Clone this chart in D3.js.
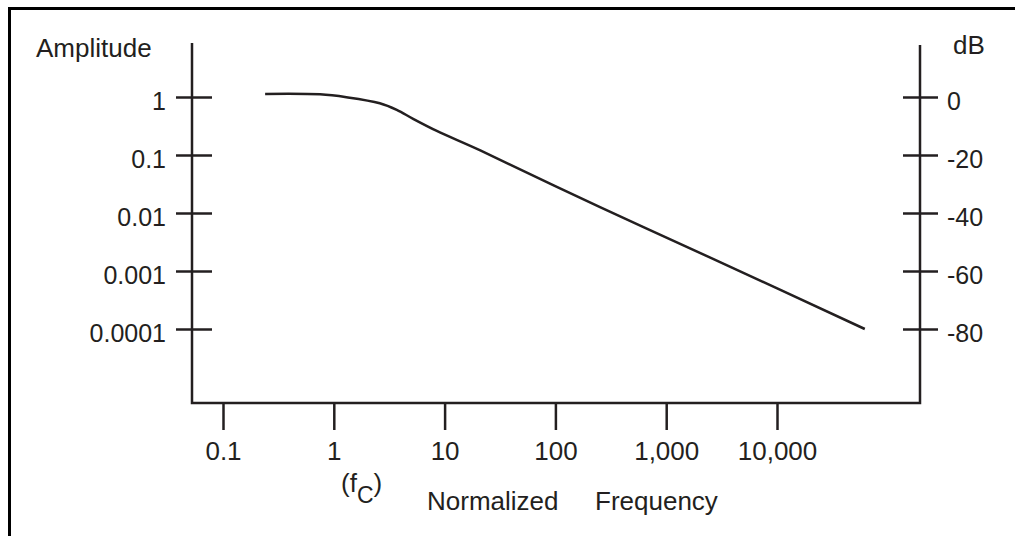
<!DOCTYPE html>
<html>
<head>
<meta charset="utf-8">
<script src="https://cdn.jsdelivr.net/npm/d3@7"></script>
<style>
  html, body { margin: 0; padding: 0; background: #fff; }
  svg { display: block; font-family: "Liberation Sans", Arial, sans-serif; }
  text { fill: #231f20; }
</style>
</head>
<body>
<div id="chart"></div>
<script>
// normalized frequency (f / fc) and amplitude
const frequency = [0.24, 0.75, 1.3, 2.6, 3.7, 5.2, 8.5, 21, 250, 2500, 62000];
const amplitude = [1.13, 1.11, 0.99, 0.78, 0.6, 0.42, 0.26, 0.12, 0.0127, 0.0017, 0.0001];

const ampTicks = [1, 0.1, 0.01, 0.001, 0.0001];
const ampLabels = ["1", "0.1", "0.01", "0.001", "0.0001"];
const dbTicks = [0, -20, -40, -60, -80];
const dbLabels = ["0", "-20", "-40", "-60", "-80"];
const freqTicks = [0.1, 1, 10, 100, 1000, 10000];
const freqLabels = ["0.1", "1", "10", "100", "1,000", "10,000"];

const width = 1015, height = 536;
const ink = "#231f20";
const tickFont = 25;
const labelFont = 26;

// plot frame
const plotLeft = 192, plotRight = 920, plotTop = 43, plotBottom = 403;

const x = d3.scaleLog().domain([0.1, 10000]).range([223, 777]);
const y = d3.scaleLog().domain([0.0001, 1]).range([329, 97]);
const yDb = d3.scaleLinear().domain([-80, 0]).range([329, 97]);

const svg = d3.select("#chart").append("svg")
  .attr("width", width)
  .attr("height", height);

// outer frame (only top and left edges show)
svg.append("path")
  .attr("d", `M9.5,${height} V8.5 H${width}`)
  .attr("fill", "none")
  .attr("stroke", "#000")
  .attr("stroke-width", 3);

// axis lines: open box
svg.append("path")
  .attr("d", `M${plotLeft},${plotTop} V${plotBottom} H${plotRight} V${plotTop + 2}`)
  .attr("fill", "none")
  .attr("stroke", ink)
  .attr("stroke-width", 2.5);

// left amplitude axis
const yAxis = svg.append("g")
  .attr("transform", `translate(${plotLeft},0)`)
  .call(d3.axisLeft(y).tickValues(ampTicks).tickSize(0).tickPadding(26)
    .tickFormat((d, i) => ampLabels[i]));
yAxis.select(".domain").remove();
yAxis.selectAll(".tick line")
  .attr("x1", -16).attr("x2", 20)
  .attr("stroke", ink).attr("stroke-width", 2.5);
yAxis.selectAll(".tick text")
  .attr("font-size", tickFont)
  .attr("dy", "0.5em").attr("fill", ink);
yAxis.attr("font-family", null).attr("font-size", null);

// right dB axis
const dbAxis = svg.append("g")
  .attr("transform", `translate(${plotRight},0)`)
  .call(d3.axisRight(yDb).tickValues(dbTicks).tickSize(0).tickPadding(27)
    .tickFormat((d, i) => dbLabels[i]));
dbAxis.select(".domain").remove();
dbAxis.selectAll(".tick line")
  .attr("x1", -17).attr("x2", 18)
  .attr("stroke", ink).attr("stroke-width", 2.5);
dbAxis.selectAll(".tick text")
  .attr("font-size", tickFont)
  .attr("dy", "0.5em").attr("fill", ink);
dbAxis.attr("font-family", null).attr("font-size", null);

// bottom frequency axis
const xAxis = svg.append("g")
  .attr("transform", `translate(0,${plotBottom})`)
  .call(d3.axisBottom(x).tickValues(freqTicks).tickSize(27).tickPadding(12)
    .tickFormat((d, i) => freqLabels[i]));
xAxis.select(".domain").remove();
xAxis.selectAll(".tick line")
  .attr("stroke", ink).attr("stroke-width", 2.5);
xAxis.selectAll(".tick text")
  .attr("font-size", labelFont)
  .attr("dy", "0.71em").attr("fill", ink);
xAxis.attr("font-family", null).attr("font-size", null);

// response curve
const line = d3.line()
  .x((d, i) => x(frequency[i]))
  .y((d) => y(d))
  .curve(d3.curveCatmullRom.alpha(0.5));

svg.append("path")
  .datum(amplitude)
  .attr("d", line)
  .attr("fill", "none")
  .attr("stroke", ink)
  .attr("stroke-width", 2.5);

// labels
svg.append("text")
  .attr("x", 36).attr("y", 57)
  .attr("font-size", labelFont)
  .text("Amplitude");

svg.append("text")
  .attr("x", 953).attr("y", 54)
  .attr("font-size", labelFont)
  .text("dB");

const fc = svg.append("text")
  .attr("x", 341).attr("y", 492)
  .attr("font-size", labelFont);
fc.append("tspan").text("(f");
fc.append("tspan").attr("dy", 11).attr("font-size", 23).text("C");
fc.append("tspan").attr("dy", -11).text(")");

svg.append("text")
  .attr("x", 427).attr("y", 510)
  .attr("font-size", labelFont)
  .text("Normalized");

svg.append("text")
  .attr("x", 595).attr("y", 510)
  .attr("font-size", labelFont)
  .text("Frequency");
</script>
</body>
</html>
